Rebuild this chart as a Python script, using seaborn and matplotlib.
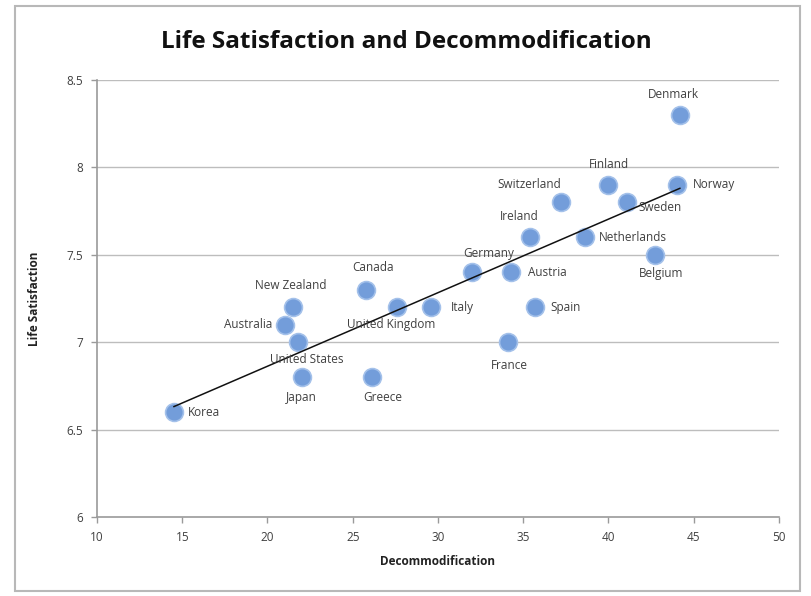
import numpy as np
import pandas as pd
import matplotlib
matplotlib.use("Agg")
import matplotlib.pyplot as plt
from matplotlib.patches import Rectangle
import seaborn as sns

countries = ["Korea", "Australia", "New Zealand", "United States", "Japan",
             "Canada", "Greece", "United Kingdom", "Italy", "Germany",
             "Austria", "France", "Spain", "Ireland", "Switzerland",
             "Netherlands", "Finland", "Sweden", "Norway", "Belgium", "Denmark"]
decommodification = [14.5, 21.0, 21.5, 21.8, 22.0,
                     25.8, 26.1, 27.6, 29.6, 32.0,
                     34.3, 34.1, 35.7, 35.4, 37.2,
                     38.6, 40.0, 41.1, 44.0, 42.7, 44.2]
life_satisfaction = [6.6, 7.1, 7.2, 7.0, 6.8,
                     7.3, 6.8, 7.2, 7.2, 7.4,
                     7.4, 7.0, 7.2, 7.6, 7.8,
                     7.6, 7.9, 7.8, 7.9, 7.5, 8.3]
x_ticks = [10, 15, 20, 25, 30, 35, 40, 45, 50]
y_ticks = [6, 6.5, 7, 7.5, 8, 8.5]
y_tick_labels = ["6", "6.5", "7", "7.5", "8", "8.5"]

# label placement per country: (dx, dy) in points, horizontal alignment, vertical alignment
label_pos = {
    "Korea": (10, 0, "left", "center"),
    "Australia": (-9, 0, "right", "center"),
    "New Zealand": (-2, 11, "center", "bottom"),
    "United States": (6, -8, "center", "top"),
    "Japan": (0, -10, "center", "top"),
    "Canada": (5, 11, "center", "bottom"),
    "Greece": (8, -10, "center", "top"),
    "United Kingdom": (-4, -8, "center", "top"),
    "Italy": (14, 0, "left", "center"),
    "Germany": (12, 9, "center", "bottom"),
    "Austria": (12, 0, "left", "center"),
    "France": (1, -12, "center", "top"),
    "Spain": (11, 0, "left", "center"),
    "Ireland": (-8, 10, "center", "bottom"),
    "Switzerland": (-23, 8, "center", "bottom"),
    "Netherlands": (10, 0, "left", "center"),
    "Finland": (0, 10, "center", "bottom"),
    "Sweden": (8, -4, "left", "center"),
    "Norway": (12, 0, "left", "center"),
    "Belgium": (5, -9, "center", "top"),
    "Denmark": (-5, 10, "center", "bottom"),
}

df = pd.DataFrame({"Country": countries,
                   "Decommodification": decommodification,
                   "Life Satisfaction": life_satisfaction})

sns.set_theme(style="white")
plt.rcParams["font.family"] = ["Open Sans", "DejaVu Sans"]

fig = plt.figure(figsize=(8.12, 5.96), dpi=100)
ax = fig.add_axes([97 / 812, 1 - 517 / 596, (779 - 97) / 812, (517 - 80) / 596])

# chart border
fig.patches.append(Rectangle((15 / 812, 5 / 596), (800 - 15) / 812, (590 - 5) / 596,
                             transform=fig.transFigure, fill=False,
                             edgecolor="#b8b8b8", linewidth=1.5))

for yv in y_ticks[1:]:
    ax.axhline(yv, color="#bdbdbd", linewidth=1.0, zorder=0)

# linear trend line fitted on the data
slope, intercept = np.polyfit(df["Decommodification"], df["Life Satisfaction"], 1)
xs = np.array([min(decommodification), max(decommodification)])
ax.plot(xs, slope * xs + intercept, color="#111111", linewidth=1.1, zorder=3)

sns.scatterplot(data=df, x="Decommodification", y="Life Satisfaction", ax=ax,
                s=165, color="#739dda", edgecolor="#a4c1ea", linewidth=1.2,
                zorder=2, legend=False)

for name, xv, yv in zip(countries, decommodification, life_satisfaction):
    dx, dy, ha, va = label_pos[name]
    ax.annotate(name, (xv, yv), xytext=(dx, dy), textcoords="offset points",
                ha=ha, va=va, fontsize=8.5, color="#404040", zorder=4)

ax.set_xlim(10, 50)
ax.set_ylim(6, 8.5)
ax.set_xticks(x_ticks)
ax.set_yticks(y_ticks)
ax.set_yticklabels(y_tick_labels)
ax.tick_params(axis="both", labelsize=8.5, colors="#404040", length=4,
               width=1, direction="out", left=True, bottom=True, pad=6)
ax.tick_params(axis="both", color="#9a9a9a")
for side in ["top", "right"]:
    ax.spines[side].set_visible(False)
for side in ["left", "bottom"]:
    ax.spines[side].set_color("#9a9a9a")
    ax.spines[side].set_linewidth(1.2)

ax.set_xlabel("Decommodification", fontsize=8.5, fontweight="bold", color="#222222", labelpad=8)
ax.set_ylabel("Life Satisfaction", fontsize=8.5, fontweight="bold", color="#222222", labelpad=18)
fig.text(0.5, 1 - 42 / 596, "Life Satisfaction and Decommodification", ha="center",
         va="center", fontsize=17.5, fontweight="bold", color="#111111")

fig.savefig("out.png", dpi=100)
